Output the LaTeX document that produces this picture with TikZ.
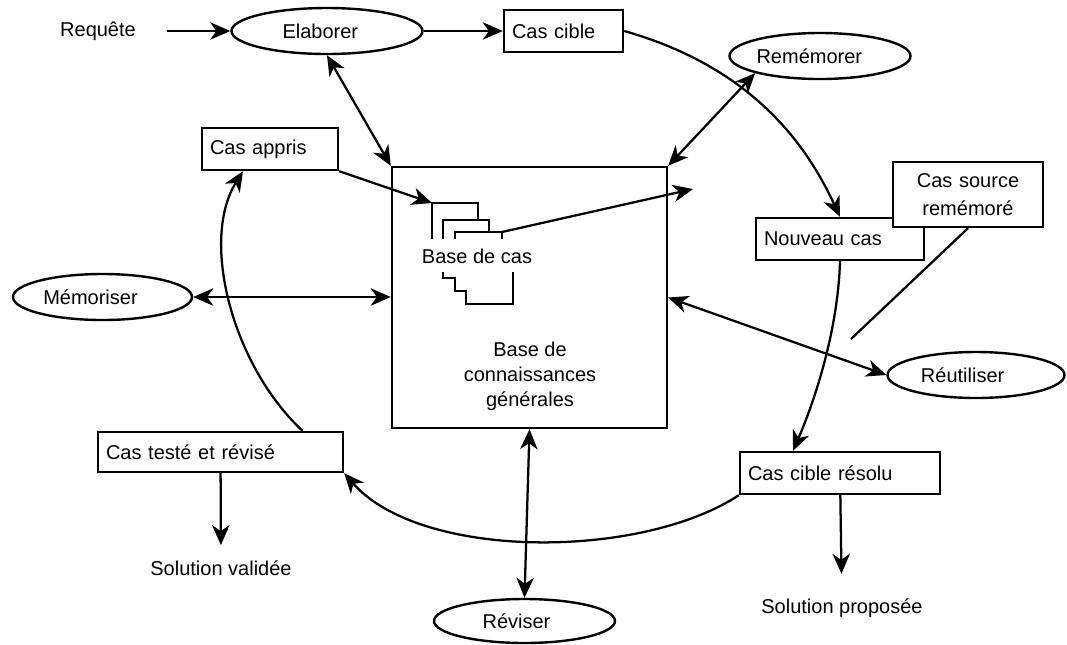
\documentclass[tikz,border=0pt]{standalone}
\usepackage{fontspec}
\setmainfont{Liberation Sans}
\usetikzlibrary{positioning,calc,arrows.meta,shapes.geometric}
\tikzset{
    casbox/.style={
        rectangle,
        draw,
        line width=1.8pt,
        fill=white,
        inner xsep=6pt,
        minimum height=31.5pt,
        align=left
    },
    etape/.style={
        ellipse,
        draw,
        line width=1.8pt,
        fill=white,
        inner sep=0pt,
        minimum height=34.5pt
    },
    ptr/.style={
        ->,
        >={Stealth[length=15pt,width=13pt,inset=4.5pt]},
        line width=1.7pt
    },
    dptr/.style={
        <->,
        >={Stealth[length=15pt,width=13pt,inset=4.5pt]},
        line width=1.7pt
    }
}

\begin{document}
\begin{tikzpicture}[x=0.75pt, y=-0.75pt, font=\fontsize{15}{18.75}\selectfont]
    \useasboundingbox (0,0) rectangle (1067,644);

    % base de connaissances
    \node[draw, line width=1.8pt, minimum width=206.25pt, minimum height=195.75pt] (kb) at (529.5,297.5) {};
    \node[align=center] (kbtxt) at (530,376) {Base de\\connaissances\\générales};

    % base de cas
    \draw[line width=1.7pt] (432,239) -- (432,203) -- (478,203) -- (478,220);
    \draw[line width=1.7pt] (443,239) -- (443,220) -- (489,220) -- (489,232);
    \draw[line width=1.7pt] (455,239) -- (455,232) -- (502,232) -- (502,239);
    \draw[line width=1.7pt] (443,272) -- (443,278) -- (455,278) -- (455,291) -- (466,291) -- (466,304) -- (513,304) -- (513,272);
    \node (bdc) at (477,256) {Base de cas};
    \coordinate (stk) at (432,203);
    \coordinate (stkr) at (502,232);
    \coordinate (vers) at (693,189);
    \coordinate (fin) at (851,339);

    % etapes
    \node (req) at (98,31) {Requête};
    \node[etape, minimum width=143.25pt] (elab) at (327,31) {Elaborer\kern10pt};
    \node[etape, minimum width=135.75pt] (remem) at (820,56) {Remémorer\kern16pt};
    \node[etape, minimum width=134.25pt] (memo) at (102.5,297) {Mémoriser\kern18pt};
    \node[etape, minimum width=132.75pt] (reut) at (976,375) {Réutiliser\kern20pt};
    \node[etape, minimum width=135.75pt, minimum height=33pt] (revis) at (524.5,621) {Réviser\kern12pt};

    % cas
    \node[casbox, text width=77.25pt] (cible) at (563.5,31) {Cas cible};
    \node[casbox, text width=90pt] (appris) at (270,149) {Cas appris};
    \node[casbox, text width=114pt] (nouveau) at (840,239) {Nouveau cas};
    \node[casbox, text width=100.5pt, align=center, minimum height=48.75pt, font=\fontsize{15}{21}\selectfont] (source) at (968,194.5) {Cas source\\remémoré};
    \node[casbox, text width=171.75pt, minimum height=30pt] (teste) at (220.5,452) {Cas testé et révisé};
    \node[casbox, text width=138pt] (resolu) at (840,473) {Cas cible résolu};

    \node (solval) at (221,568) {Solution validée};
    \node (solprop) at (842,608) {Solution proposée};

    % fleches
    \draw[ptr, shorten <=20pt] (req.east) -- (elab.west);
    \draw[ptr] (elab.east) -- (cible.west);
    \draw[ptr] (cible.east) .. controls (755,68) and (808,148) .. (nouveau.north);
    \draw[ptr] (nouveau.south) .. controls (838,330) and (815,400) .. ([xshift=-35.25pt]resolu.north);
    \draw[ptr] (resolu.south west) .. controls (640,560) and (420,560) .. (teste.south east);
    \draw[ptr] ([xshift=61.5pt]teste.north) .. controls (232,365) and (200,240) .. ([xshift=-20.25pt]appris.south);
    \draw[ptr] (appris.south east) -- (stk);
    \draw[ptr] (stkr) -- (vers);
    \draw[line width=1.7pt] (source.south) -- (fin);
    \draw[ptr, shorten >=8pt] (teste) -- (solval);
    \draw[ptr, shorten >=15pt] (resolu) -- (solprop);

    \draw[dptr] (elab.south) -- (kb.north west);
    \draw[dptr] (remem.south west) -- (kb.north east);
    \draw[dptr] (memo.east) -- (memo.east -| kb.west);
    \draw[dptr] (kb.east) -- (reut.west);
    \draw[dptr] (kb.south) -- (revis.north);
\end{tikzpicture}
\end{document}
